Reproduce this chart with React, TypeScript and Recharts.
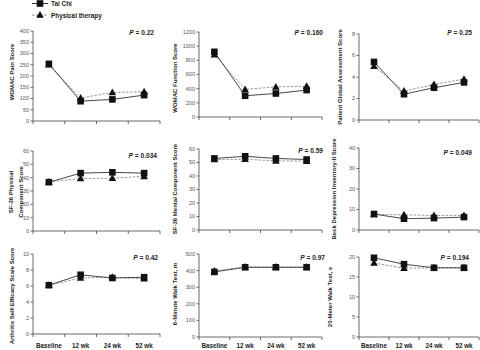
import React from 'react';
import { LineChart, Line, XAxis, YAxis } from 'recharts';

const timepoints = ['Baseline', '12 wk', '24 wk', '52 wk'];

const womacPainTaiChi = [254, 88, 96, 115];
const womacPainPT = [250, 102, 127, 130];
const womacFuncTaiChi = [920, 300, 332, 380];
const womacFuncPT = [880, 390, 425, 435];
const pgaTaiChi = [5.4, 2.4, 3.0, 3.5];
const pgaPT = [5.0, 2.7, 3.3, 3.8];
const sf36PhysTaiChi = [36.6, 43.4, 44.0, 43.4];
const sf36PhysPT = [36.8, 39.4, 39.6, 41.0];
const sf36MentTaiChi = [53.0, 54.6, 53.0, 52.2];
const sf36MentPT = [52.2, 52.4, 51.2, 51.0];
const beckTaiChi = [7.8, 5.5, 5.8, 6.3];
const beckPT = [7.6, 7.4, 7.1, 7.1];
const asesTaiChi = [6.1, 7.4, 7.0, 7.1];
const asesPT = [6.1, 7.0, 7.1, 6.9];
const sixMinTaiChi = [392, 420, 420, 420];
const sixMinPT = [398, 422, 421, 421];
const twentyMTaiChi = [19.8, 18.2, 17.3, 17.3];
const twentyMPT = [18.5, 17.2, 17.3, 17.3];

const pValues = ['0.22', '0.160', '0.25', '0.034', '0.59', '0.049', '0.42', '0.97', '0.194'];

const FONT = '"Liberation Sans", Arial, sans-serif';
const YW = 30;
const MT = 4;
const MR = 2;
const XH = 20;
const XLABEL_BASELINE = 348;

type Panel = {
  label: React.ReactNode;
  tc: number[];
  pt: number[];
  yMax: number;
  yTicks: number[];
  p: string;
  box: [number, number, number, number];
  labelPos: [number, number];
  pPos: [number, number];
  showX: boolean;
};

const panels: Panel[] = [
  { label: 'WOMAC Pain Score', tc: womacPainTaiChi, pt: womacPainPT, yMax: 400, yTicks: [0, 50, 100, 150, 200, 250, 300, 350, 400], p: pValues[0], box: [33, 31, 160, 121], labelPos: [12, 72], pPos: [154, 33], showX: false },
  { label: 'WOMAC Function Score', tc: womacFuncTaiChi, pt: womacFuncPT, yMax: 1200, yTicks: [0, 200, 400, 600, 800, 1000, 1200], p: pValues[1], box: [199, 32, 322, 117], labelPos: [175, 78], pPos: [323, 33], showX: false },
  { label: 'Patient Global Assessment Score', tc: pgaTaiChi, pt: pgaPT, yMax: 8, yTicks: [0, 2, 4, 6, 8], p: pValues[2], box: [359, 34, 479, 120], labelPos: [340, 77], pPos: [472, 33], showX: false },
  { label: <>SF-36 Physical<br />Component Score</>, tc: sf36PhysTaiChi, pt: sf36PhysPT, yMax: 60, yTicks: [0, 10, 20, 30, 40, 50, 60], p: pValues[3], box: [33, 151, 160, 231], labelPos: [15.5, 192], pPos: [157, 156], showX: false },
  { label: 'SF-36 Mental Component Score', tc: sf36MentTaiChi, pt: sf36MentPT, yMax: 60, yTicks: [0, 10, 20, 30, 40, 50, 60], p: pValues[4], box: [199, 149, 322, 230], labelPos: [175, 189], pPos: [323, 151], showX: false },
  { label: 'Beck Depression Inventory-II Score', tc: beckTaiChi, pt: beckPT, yMax: 40, yTicks: [0, 10, 20, 30, 40], p: pValues[5], box: [359, 148, 479, 230], labelPos: [334, 189], pPos: [472, 153], showX: false },
  { label: 'Arthritis Self-Efficacy Scale Score', tc: asesTaiChi, pt: asesPT, yMax: 10, yTicks: [0, 2, 4, 6, 8, 10], p: pValues[6], box: [33, 254, 160, 334], labelPos: [12, 296], pPos: [158, 258], showX: true },
  { label: <>6-Minute Walk Test, <i>m</i></>, tc: sixMinTaiChi, pt: sixMinPT, yMax: 500, yTicks: [0, 100, 200, 300, 400, 500], p: pValues[7], box: [199, 254, 322, 337], labelPos: [175, 294], pPos: [325, 258], showX: true },
  { label: <>20-Meter Walk Test, <i>s</i></>, tc: twentyMTaiChi, pt: twentyMPT, yMax: 20, yTicks: [0, 5, 10, 15, 20], p: pValues[8], box: [359, 257, 479, 337], labelPos: [330, 297], pPos: [469, 258], showX: true },
];

const Square = (p: any) => {
  if (p.cx == null || p.cy == null) return <g key={`s${p.index}`} />;
  return <rect key={`s${p.index}`} x={p.cx - 3.3} y={p.cy - 3.3} width={6.6} height={6.6} fill="#111" />;
};

const Triangle = (p: any) => {
  if (p.cx == null || p.cy == null) return <g key={`t${p.index}`} />;
  const { cx, cy } = p;
  return <polygon key={`t${p.index}`} points={`${cx},${cy - 4} ${cx - 3.8},${cy + 2.8} ${cx + 3.8},${cy + 2.8}`} fill="#111" />;
};

function renderXTick(props: any, bw: number, show: boolean, count: number, axisY: number) {
  const { x, y, payload, index } = props;
  const left = x - bw / 2;
  return (
    <g key={`xt${index}`}>
      <line x1={left} x2={left} y1={y} y2={y + 3} stroke="#444" strokeWidth={0.8} />
      {index === count - 1 && <line x1={x + bw / 2} x2={x + bw / 2} y1={y} y2={y + 3} stroke="#444" strokeWidth={0.8} />}
      {show && (
        <text x={x} y={y + (XLABEL_BASELINE - axisY)} textAnchor="middle" fontSize={6.3} fontWeight="bold" fill="#222" fontFamily={FONT}>
          {payload.value}
        </text>
      )}
    </g>
  );
}

function PanelChart({ cfg }: { cfg: Panel }) {
  const [l, t, r, b] = cfg.box;
  const plotW = r - l;
  const plotH = b - t;
  const bw = plotW / 4;
  const data = timepoints.map((tp, i) => ({ tp, tc: cfg.tc[i], pt: cfg.pt[i] }));
  return (
    <div style={{ position: 'absolute', left: l - YW, top: t - MT }}>
      <LineChart width={YW + plotW + MR} height={MT + plotH + XH} data={data} margin={{ top: MT, right: MR, bottom: 0, left: 0 }}>
        <XAxis
          dataKey="tp"
          type="category"
          padding={{ left: bw / 2, right: bw / 2 }}
          tickSize={0}
          tickMargin={0}
          tickLine={false}
          axisLine={{ stroke: '#444', strokeWidth: 0.8 }}
          height={XH}
          interval={0}
          tick={(p: any) => renderXTick(p, bw, cfg.showX, timepoints.length, b)}
        />
        <YAxis
          width={YW}
          type="number"
          domain={[0, cfg.yMax]}
          ticks={cfg.yTicks}
          interval={0}
          tickSize={2.5}
          tickMargin={1.5}
          tickLine={{ stroke: '#444', strokeWidth: 0.8 }}
          axisLine={{ stroke: '#444', strokeWidth: 0.8 }}
          tick={{ fontSize: 5.5, fill: '#555', fontFamily: FONT }}
        />
        <Line dataKey="pt" type="linear" stroke="#8a8a8a" strokeWidth={0.9} strokeDasharray="2.5 1.5" dot={Triangle} activeDot={false} isAnimationActive={false} />
        <Line dataKey="tc" type="linear" stroke="#333" strokeWidth={0.9} dot={Square} activeDot={false} isAnimationActive={false} />
      </LineChart>
    </div>
  );
}

export default function App() {
  return (
    <div style={{ position: 'absolute', left: 0, top: 0, width: 480, height: 350, background: '#fff', overflow: 'hidden', fontFamily: FONT }}>
      {panels.map((cfg, i) => (
        <PanelChart key={i} cfg={cfg} />
      ))}
      {panels.map((cfg, i) => (
        <div
          key={`yl${i}`}
          style={{
            position: 'absolute',
            left: cfg.labelPos[0],
            top: cfg.labelPos[1],
            transform: 'translate(-50%, -50%) rotate(-90deg)',
            whiteSpace: 'nowrap',
            textAlign: 'center',
            fontSize: 6,
            lineHeight: '10px',
            fontWeight: 'bold',
            color: '#222',
          }}
        >
          {cfg.label}
        </div>
      ))}
      {panels.map((cfg, i) => (
        <div
          key={`p${i}`}
          style={{
            position: 'absolute',
            left: cfg.pPos[0] - 60,
            top: cfg.pPos[1] - 5,
            width: 60,
            textAlign: 'right',
            fontSize: 6.6,
            lineHeight: '10px',
            fontWeight: 'bold',
            color: '#222',
            whiteSpace: 'nowrap',
          }}
        >
          <i>P</i> = {cfg.p}
        </div>
      ))}
      <svg width={120} height={24} style={{ position: 'absolute', left: 0, top: 0 }}>
        <line x1={32} x2={48} y1={3.5} y2={3.5} stroke="#333" strokeWidth={1} />
        <rect x={36.7} y={0.2} width={6.6} height={6.6} fill="#111" />
        <text x={51} y={6} fontSize={6.4} fontWeight="bold" fill="#222" fontFamily={FONT}>Tai Chi</text>
        <line x1={32} x2={48} y1={15} y2={15} stroke="#8a8a8a" strokeWidth={1} strokeDasharray="2.5 1.5" />
        <polygon points="40,11 36.2,17.8 43.8,17.8" fill="#111" />
        <text x={51} y={17.5} fontSize={6.4} fontWeight="bold" fill="#222" fontFamily={FONT}>Physical therapy</text>
      </svg>
    </div>
  );
}
